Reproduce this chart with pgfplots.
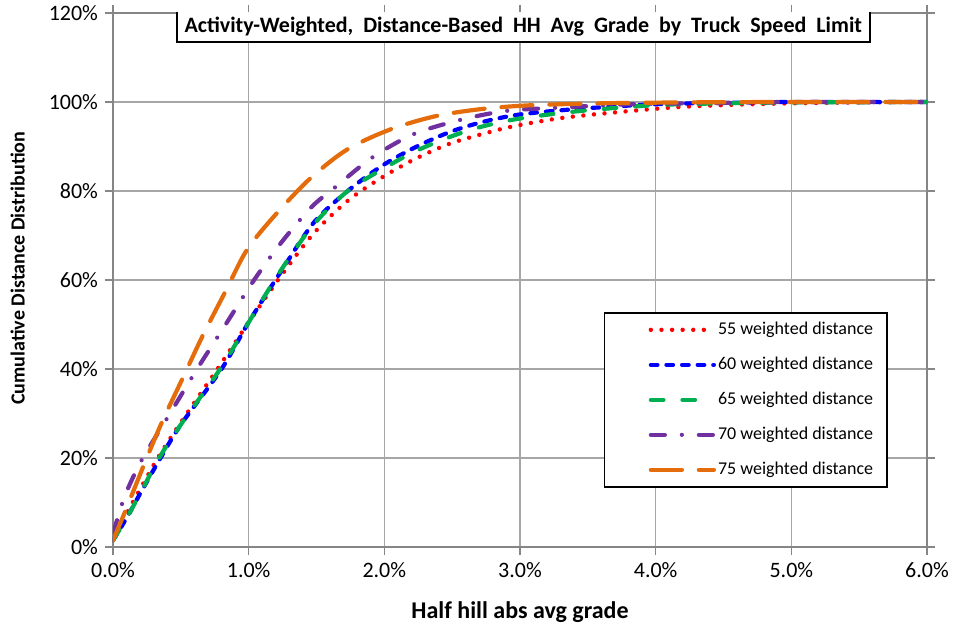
\documentclass[border=0pt]{standalone}
\usepackage{pgfplots}
\pgfplotsset{compat=1.18}
\usepackage{fontspec}
\setmainfont{Carlito}
\definecolor{gridgray}{RGB}{166,166,166}
\definecolor{axgray}{RGB}{134,134,134}
\definecolor{c55}{RGB}{255,0,0}
\definecolor{c60}{RGB}{0,0,255}
\definecolor{c65}{RGB}{0,176,80}
\definecolor{c70}{RGB}{112,48,160}
\definecolor{c75}{RGB}{228,108,10}
\begin{document}
\begin{tikzpicture}
\begin{axis}[
  scale only axis, width=407pt, height=267pt,
  xmin=0, xmax=6, ymin=0, ymax=120,
  xtick={0,1,...,6}, ytick={0,20,...,120},
  xticklabels={0.0\%,1.0\%,2.0\%,3.0\%,4.0\%,5.0\%,6.0\%},
  yticklabels={0\%,20\%,40\%,60\%,80\%,100\%,120\%},
  tick label style={font=\fontsize{11}{13}\selectfont, black},
  grid=major, major grid style={gridgray, line width=0.75pt},
  axis line style={axgray, line width=0.75pt},
  tick align=outside, major tick length=4pt, tick style={axgray, line width=0.75pt},
  xlabel={\bfseries Half hill abs avg grade},
  ylabel={\bfseries Cumulative Distance Distribution},
  xlabel style={font=\fontsize{12}{14}\selectfont, at={(axis description cs:0.5,-0.122)}, anchor=center},
  ylabel style={font=\fontsize{10}{12}\selectfont, at={(axis description cs:-0.117,0.522)}, anchor=center},
  legend style={at={(0.952,0.44)}, anchor=north east, draw=black, line width=0.8pt,
    font=\fontsize{9}{11}\selectfont, row sep=6.5pt, inner xsep=6pt, inner ysep=3pt,
    nodes={text height=7pt, text depth=2pt, inner sep=1pt}},
  legend cell align=left,
  legend image code/.code={\path (0pt,0pt); \draw[#1] (16pt,0pt) -- (47.5pt,0pt);},
  every axis plot/.append style={line width=2.1pt, line cap=round},
]
\addplot[c55, smooth, line width=2.2pt, dash pattern=on 0pt off 5.3pt] coordinates {
 (0,1.7) (0.1,7.5) (0.2,13) (0.33,20) (0.5,28) (0.77,40) (1.0,50.5) (1.24,61)
 (1.48,70.5) (1.73,77.8) (1.98,83) (2.22,87.1) (2.47,90.5) (2.71,92.7) (2.96,94.6)
 (3.33,96.5) (3.82,98) (4.19,98.9) (4.6,99.4) (5,99.7) (5.5,99.9) (6,100)
};
\addlegendentry{55 weighted distance}
\addplot[c60, smooth, dash pattern=on 3.3pt off 4.5pt] coordinates {
 (0,1.5) (0.1,6.5) (0.2,12) (0.35,20) (0.5,27.5) (0.8,40) (1.0,50.5) (1.24,62)
 (1.48,72.9) (1.73,80) (1.98,85.6) (2.22,89.7) (2.47,93.1) (2.71,95.4) (3.0,97.2)
 (3.45,98.5) (4.0,99.5) (4.5,99.8) (5,100) (6,100)
};
\addlegendentry{60 weighted distance}
\addplot[c65, smooth, dash pattern=on 6.3pt off 9.5pt] coordinates {
 (0,1.5) (0.1,6.5) (0.2,12) (0.34,20) (0.5,27.5) (0.79,40) (1.0,50.5) (1.24,62.3)
 (1.48,72.5) (1.73,80) (1.98,84.8) (2.22,88.8) (2.47,92) (2.71,94.4) (3.0,96.3)
 (3.45,98) (4.0,99.3) (4.5,99.7) (5,99.9) (6,100)
};
\addlegendentry{65 weighted distance}
\addplot[c70, smooth, dash pattern=on 7pt off 8.5pt on 0pt off 8.5pt] coordinates {
 (0,3) (0.07,10) (0.13,14.5) (0.22,20) (0.4,29) (0.62,40) (0.83,50) (1.04,60)
 (1.24,68.4) (1.46,76.3) (1.64,80.9) (1.91,87.5) (2.21,92.7) (2.55,95.9) (2.9,98)
 (3.33,98.8) (3.82,99.5) (4.5,99.8) (5,100) (6,100)
};
\addlegendentry{70 weighted distance}
\addplot[c75, smooth, dash pattern=on 15.5pt off 8.5pt] coordinates {
 (0,1.5) (0.09,8) (0.23,18.6) (0.36,28) (0.51,37.7) (0.66,47.4) (0.83,57.5)
 (0.99,66.9) (1.21,75.1) (1.46,83) (1.73,89.4) (2.05,93.9) (2.39,96.9) (2.74,98.5)
 (3.1,99.3) (3.6,99.7) (4.2,99.9) (5,100) (6,100)
};
\addlegendentry{75 weighted distance}
\node[draw=black, fill=white, line width=1pt, anchor=north, yshift=1.5pt,
  inner xsep=4pt, inner ysep=3pt, font=\fontsize{11}{13}\selectfont\bfseries]
  at (rel axis cs:0.504,1) {Activity-Weighted,\ \ Distance-Based\ \ HH\ \ Avg\ \ Grade\ \ by\ \ Truck\ \ Speed\ \ Limit};
\end{axis}
\pgfresetboundingbox
\path ([xshift=-56.5pt,yshift=-41.5pt]current axis.south west) rectangle ([xshift=14pt,yshift=6.5pt]current axis.north east);
\end{tikzpicture}
\end{document}
